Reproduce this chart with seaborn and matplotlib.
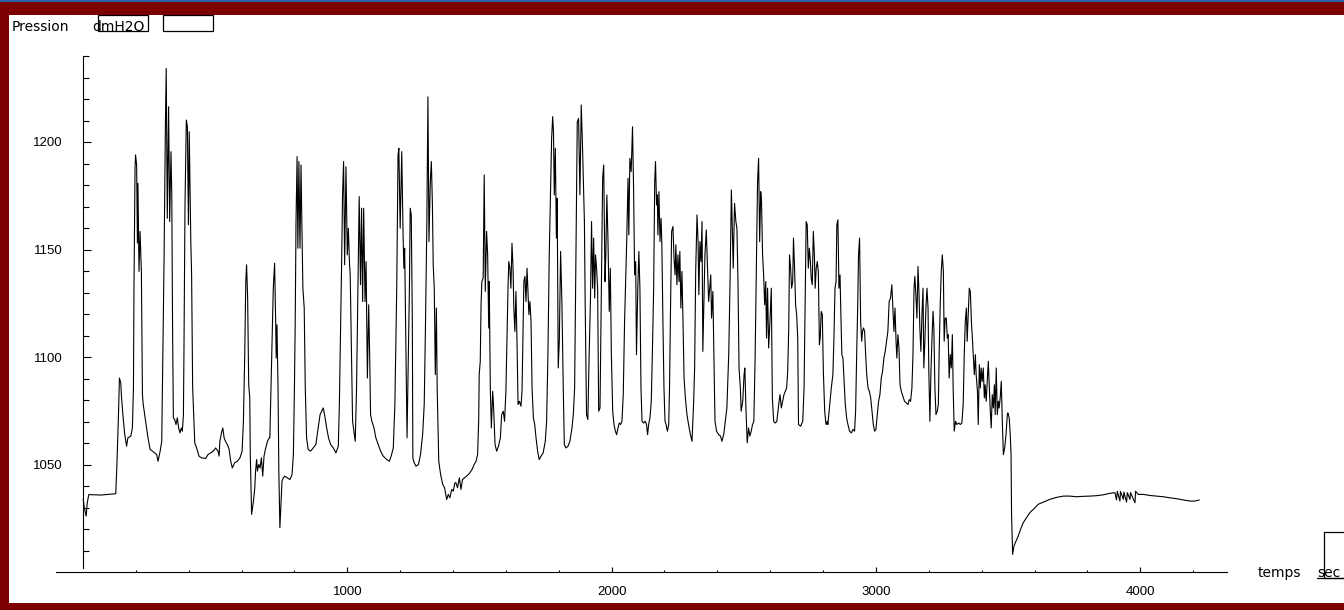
import matplotlib
matplotlib.use("Agg")
import matplotlib.pyplot as plt
import seaborn as sns
import pandas as pd
from matplotlib.patches import Rectangle
from matplotlib.lines import Line2D
from matplotlib.ticker import FixedLocator

# ---------------------------------------------------------------------------
# Pressure record (dmH2O) against time (s)
# ---------------------------------------------------------------------------
temps_s = [
    1, 5, 12, 16, 22, 67, 124, 128, 134, 138,
    143, 146, 152, 158, 165, 170, 181, 187, 191, 193,
    197, 199, 203, 206, 208, 212, 216, 221, 225, 228,
    237, 246, 254, 263, 271, 279, 284, 292, 298, 302,
    307, 312, 315, 319, 324, 328, 333, 336, 339, 342,
    347, 352, 357, 362, 367, 372, 376, 380, 382, 386,
    391, 395, 399, 402, 408, 411, 415, 420, 423, 430,
    439, 448, 464, 473, 483, 493, 502, 511, 515, 518,
    524, 529, 534, 539, 546, 553, 559, 565, 574, 584,
    594, 602, 607, 612, 616, 619, 623, 627, 631, 633,
    638, 645, 650, 653, 657, 660, 665, 670, 675, 680,
    685, 690, 698, 705,
    707, 714, 720, 725, 729, 731, 734, 738, 741, 745,
    749, 753, 758, 764, 773, 783, 791, 796, 800, 803,
    806, 810, 813, 817, 821, 825, 828, 832, 837, 841,
    846, 852, 861, 871, 881, 890, 897, 903, 909, 915,
    922, 929, 937, 947, 957, 966, 970, 975, 979, 982,
    986, 990, 995, 1000, 1004, 1008, 1011, 1016, 1020, 1025,
    1030, 1035, 1040, 1045, 1050, 1054, 1058, 1062, 1067, 1071,
    1076, 1081, 1085, 1088, 1093, 1101, 1108, 1117, 1126, 1136,
    1149, 1159, 1166, 1174, 1180, 1187, 1192, 1195, 1200, 1206,
    1211, 1214, 1217, 1222, 1226, 1231, 1235, 1238, 1242, 1246,
    1248, 1253, 1260, 1269, 1277, 1285, 1291, 1296, 1301, 1305,
    1309, 1314, 1318, 1322, 1325, 1329, 1333, 1337, 1340, 1346,
    1353, 1361, 1368, 1376, 1382, 1388, 1395, 1401, 1407,
    1411, 1417, 1424, 1430, 1436, 1443, 1451, 1461, 1472, 1480,
    1487, 1493, 1497, 1499, 1503, 1506, 1509, 1514, 1518, 1522,
    1527, 1531, 1535, 1537, 1541, 1545, 1550, 1553, 1559, 1565,
    1572, 1579, 1584, 1590, 1595, 1600, 1604, 1608, 1611, 1615,
    1619, 1623, 1627, 1630, 1634, 1638, 1642, 1646, 1651, 1657,
    1661, 1664, 1668, 1672, 1676, 1680, 1683, 1687, 1691, 1695,
    1699, 1704, 1709, 1714, 1720, 1726, 1733, 1741, 1749, 1754,
    1759, 1764, 1769, 1773, 1777, 1780, 1783, 1787, 1791, 1794,
    1798, 1802, 1807, 1812, 1817, 1821, 1827, 1835, 1842, 1850,
    1855, 1860, 1865, 1870, 1875, 1880, 1885, 1889, 1893, 1897,
    1900, 1905, 1910, 1915, 1920, 1924, 1928, 1932, 1936, 1939,
    1943, 1947, 1951, 1956, 1961, 1966, 1970, 1975, 1978, 1982,
    1986, 1991, 1995, 1999, 2004, 2009, 2014, 2019, 2024, 2029,
    2034, 2039, 2044, 2049, 2057, 2062, 2065, 2069, 2074, 2079,
    2083, 2087, 2091, 2094, 2099, 2103, 2107, 2111,
    2115, 2121, 2127, 2132, 2136, 2140, 2145, 2150, 2154, 2159,
    2163, 2166, 2170, 2173, 2175, 2179, 2183, 2187, 2190, 2194,
    2198, 2202, 2206, 2211, 2216, 2219, 2223, 2227, 2232, 2236,
    2240, 2243, 2247, 2251, 2255, 2258, 2262, 2266, 2270, 2274,
    2279, 2285, 2291, 2298, 2304, 2310, 2314, 2318, 2323, 2327,
    2330, 2334, 2338, 2342, 2345, 2349, 2353, 2358, 2363, 2367,
    2371, 2375, 2378, 2383, 2387, 2391, 2397, 2405, 2412, 2417,
    2424, 2430, 2436, 2443, 2448, 2453, 2456, 2460, 2465, 2470,
    2474, 2478, 2482, 2487, 2490, 2496, 2501, 2504, 2508, 2513,
    2518, 2523, 2528, 2533, 2538, 2543, 2548, 2552, 2556, 2560,
    2564, 2567, 2571, 2575, 2579, 2583, 2586, 2590, 2594, 2599,
    2604, 2608, 2613, 2619, 2625, 2632, 2637, 2642, 2647, 2652,
    2657, 2662, 2666, 2670, 2673, 2677, 2681, 2685, 2688, 2692,
    2696, 2700, 2704, 2707, 2715, 2723, 2728, 2733, 2736, 2740,
    2744, 2748, 2752, 2755, 2759, 2763, 2767, 2770, 2774, 2778,
    2782, 2786, 2789, 2793, 2797, 2801, 2806, 2811, 2816,
    2818, 2825, 2831, 2837, 2841, 2845, 2849, 2852, 2856, 2860,
    2864, 2867, 2871, 2875, 2879, 2884, 2889, 2894, 2900, 2907,
    2913, 2919, 2923, 2927, 2931, 2934, 2938, 2942, 2946, 2949,
    2953, 2957, 2961, 2965, 2970, 2975, 2980, 2985, 2990, 2995,
    3000, 3005, 3010, 3015, 3020, 3025, 3030, 3035, 3040, 3045,
    3050, 3055, 3060, 3064, 3068, 3072, 3076, 3079, 3083, 3087,
    3091, 3096, 3102, 3108, 3115, 3121, 3126, 3131, 3136, 3140,
    3144, 3147, 3151, 3155, 3159, 3163, 3166, 3170, 3174, 3178,
    3181, 3185, 3189, 3193, 3197, 3200, 3204, 3208, 3212, 3216,
    3219, 3223, 3227, 3232, 3236, 3239, 3243, 3247, 3251, 3255,
    3258, 3262, 3266, 3270, 3273, 3277, 3281, 3285, 3289, 3292,
    3296, 3301, 3306, 3313, 3319, 3325, 3330, 3334, 3338, 3342,
    3345, 3349, 3353, 3357, 3361, 3364, 3368, 3372, 3376, 3379,
    3384, 3387, 3391, 3395, 3398, 3402, 3406, 3410, 3413, 3417,
    3421, 3425, 3429, 3432, 3436, 3440, 3444, 3448, 3451, 3455,
    3459, 3463, 3466, 3470, 3474, 3478, 3482, 3487, 3492, 3497,
    3499, 3504, 3508, 3511, 3513,
    3517, 3522, 3530, 3538, 3547, 3557, 3570, 3582, 3595, 3614,
    3633, 3658, 3683, 3709, 3734, 3759, 3784, 3809, 3835, 3860,
    3885, 3904, 3910, 3913, 3923, 3925, 3936, 3938, 3948, 3951,
    3961, 3963, 3980, 3982, 3992, 4011, 4036, 4062, 4087, 4112,
    4137, 4163, 4188, 4207, 4223,
]

pression = [
    1034, 1030, 1026, 1032, 1036, 1035.8, 1036.4, 1048.4, 1071.7, 1090.2,
    1087.9, 1081, 1071.7, 1064, 1058.5, 1062.4, 1063.2, 1067, 1085.6, 1132,
    1187.8, 1194, 1189.3, 1153, 1180.8, 1139.8, 1158.4, 1139.8, 1082.5, 1077.9,
    1070.1, 1062.4, 1057, 1056.2, 1055.4, 1054.6, 1051.5, 1056.2, 1060.8, 1101.1,
    1147.5, 1209.4, 1234.2, 1164.5, 1216.4, 1163, 1195.5, 1175.4, 1113.5, 1071.7,
    1070.9, 1068.6, 1071.7, 1067, 1064.7, 1067, 1065.5, 1073.2, 1101.1, 1170.7,
    1210.2, 1207.1, 1161.5, 1204.8, 1153.7, 1138.2, 1085.6, 1070.1, 1060.1, 1057.7,
    1053.9, 1053.1, 1052.8, 1054.6, 1055.4, 1056.2, 1057.7, 1056.2, 1053.9, 1060.8,
    1064.7, 1067, 1062.4, 1060.8, 1059.3, 1057, 1051.5, 1048.4, 1050.8, 1051.5,
    1053.1, 1056.2, 1070.1, 1101.1, 1135.1, 1142.9, 1127.4, 1087.1, 1081, 1054.6,
    1026.8, 1033, 1039.2, 1046.9, 1052.3, 1046.9, 1050, 1048.4, 1053.1, 1044.6,
    1053.9, 1057, 1060.8, 1062.4,
    1062.4, 1101.1, 1132, 1143.6, 1116.6, 1099.5, 1115, 1085.6, 1046.9, 1020.6,
    1031.4, 1042.3, 1043.8, 1044.6, 1043.8, 1043, 1045.4, 1054.6, 1085.6, 1116.6,
    1163, 1193.2, 1150.6, 1190.9, 1150.6, 1189.3, 1163, 1132, 1122.8, 1085.6,
    1062.4, 1057, 1056.2, 1057.7, 1059.3, 1067, 1073.2, 1074.8, 1076.3, 1072.4,
    1067, 1062.4, 1059.3, 1057.7, 1055.4, 1058.5, 1077.9, 1116.6, 1147.5, 1175.4,
    1190.9, 1142.9, 1188.5, 1147.5, 1159.9, 1144.4, 1138.2, 1101.1, 1070.1, 1065.5,
    1060.8, 1085.6, 1132, 1174.6, 1133.6, 1169.2, 1125.8, 1169.2, 1125.8, 1144.4,
    1090.2, 1124.3, 1098, 1073.2, 1070.1, 1067, 1062.4, 1059.3, 1056.2, 1053.9,
    1052.3, 1051.5, 1053.9, 1057.7, 1077.9, 1132, 1194, 1197.1, 1159.9, 1195.5,
    1156.8, 1141.3, 1150.6, 1101.1, 1062.4, 1101.1, 1132, 1169.2, 1166.1, 1116.6,
    1053.1, 1050.8, 1049.2, 1050, 1054.6, 1063.9, 1077.9, 1116.6, 1163, 1221,
    1153.7, 1181.6, 1190.9, 1170.7, 1142.9, 1132, 1091.8, 1122.8, 1085.6, 1051.5,
    1045.4, 1040.7, 1039.2, 1033.7, 1036.1, 1034.5, 1038.4, 1037.6, 1041.5,
    1041.5, 1039.2, 1043.8, 1038.4, 1043, 1043.8, 1044.6, 1045.7, 1047.7, 1050,
    1051.5, 1054.6, 1070.1, 1091.8, 1098, 1124.3, 1135.1, 1136.7, 1184.7, 1130.5,
    1158.4, 1147.5, 1113.5, 1135.1, 1085.6, 1067, 1084, 1077.9, 1059.3, 1056.2,
    1058.5, 1062.4, 1073.2, 1074.8, 1070.1, 1084, 1108.8, 1132, 1144.4, 1141.3,
    1132, 1152.9, 1141.3, 1122.8, 1111.9, 1130.5, 1107.3, 1077.9, 1079.4, 1077.1,
    1084, 1105.7, 1135.1, 1137.5, 1125.8, 1141.3, 1132, 1119.7, 1125.8, 1116.6,
    1085.6, 1071.7, 1068.6, 1062.4, 1056.2, 1052.3, 1053.9, 1055.4, 1060.8, 1070.1,
    1101.1, 1147.5, 1178.5, 1201.7, 1211.8, 1204.8, 1175.4, 1197.1, 1155.3, 1173.8,
    1094.9, 1107.3, 1149.1, 1124.3, 1085.6, 1059.3, 1057.7, 1058.5, 1060.8, 1067,
    1073.2, 1085.6, 1147.5, 1209.4, 1211, 1175.4, 1217.2, 1201.7, 1181.6, 1163,
    1124.3, 1073.2, 1070.9, 1101.1, 1127.4, 1163, 1132, 1155.3, 1127.4, 1147.5,
    1141.3, 1132, 1074.8, 1076.3, 1132, 1183.1, 1189.3, 1135.1, 1147.5, 1175.4,
    1155.3, 1121.2, 1141.3, 1101.1, 1074.8, 1068.6, 1065.5, 1063.9, 1067, 1069.3,
    1068.6, 1070.1, 1082.5, 1116.6, 1153.7, 1183.1, 1156.8, 1192.4, 1186.2, 1207.1,
    1178.5, 1138.2, 1144.4, 1101.1, 1132, 1149.1, 1132, 1085.6,
    1070.1, 1069.3, 1070.1, 1068.6, 1063.9, 1068.6, 1071.7, 1079.4, 1101.1, 1132,
    1181.6, 1190.9, 1170.7, 1175.4, 1156.8, 1176.9, 1153.7, 1164.5, 1152.2, 1116.6,
    1085.6, 1070.1, 1068.6, 1065.5, 1068.6, 1085.6, 1124.3, 1158.4, 1160.7, 1146,
    1138.2, 1152.2, 1133.6, 1147.5, 1135.1, 1149.1, 1122.8, 1139.8, 1116.6, 1090.2,
    1081, 1073.2, 1068.6, 1063.9, 1060.8, 1077.9, 1094.9, 1139.8, 1166.1, 1153.7,
    1129, 1153.7, 1144.4, 1163, 1102.6, 1125.8, 1147.5, 1159.1, 1141.3, 1125.8,
    1132, 1138.2, 1118.1, 1130.5, 1101.1, 1070.1, 1065.5, 1063.9, 1063.2, 1060.8,
    1063.9, 1070.1, 1076.3, 1101.1, 1135.1, 1177.7, 1163, 1141.3, 1171.5, 1163,
    1159.9, 1135.1, 1094.9, 1085.6, 1074.8, 1079.4, 1091.8, 1094.9, 1076.3, 1060.1,
    1067, 1063.2, 1065.5, 1068.6, 1070.1, 1101.1, 1147.5, 1181.6, 1192.4, 1153.7,
    1176.9, 1172.3, 1147.5, 1138.2, 1124.3, 1135.1, 1108.8, 1132, 1104.2, 1116.6,
    1132, 1081, 1070.1, 1069.3, 1070.1, 1077.9, 1082.5, 1076.3, 1079.4, 1082.5,
    1084, 1085.6, 1093.3, 1113.5, 1147.5, 1141.3, 1132, 1135.1, 1155.3, 1141.3,
    1124.3, 1119.7, 1108.8, 1068.6, 1067.8, 1070.1, 1085.6, 1132, 1163, 1161.5,
    1141.3, 1150.6, 1144.4, 1136.7, 1133.6, 1158.4, 1147.5, 1132, 1141.3, 1144.4,
    1139.8, 1105.7, 1108.8, 1121.2, 1119.7, 1093.3, 1074.8, 1068.6, 1070.1,
    1068.6, 1077.9, 1085.6, 1091.8, 1108.8, 1132, 1135.1, 1161.5, 1163.8, 1132,
    1138.2, 1121.2, 1101.1, 1099.5, 1090.2, 1077.9, 1071.7, 1068.6, 1065.5, 1064.7,
    1066.3, 1065.5, 1074.8, 1101.1, 1124.3, 1147.5, 1155.3, 1116.6, 1107.3, 1111.9,
    1113.5, 1111.9, 1101.1, 1091.8, 1085.6, 1084, 1081, 1074.8, 1068.6, 1065.5,
    1066.3, 1073.2, 1079.4, 1082.5, 1090.2, 1093.3, 1099.5, 1102.6, 1107.3, 1111.9,
    1125.9, 1127.4, 1133.6, 1122.8, 1111.9, 1122.8, 1107.3, 1099.5, 1110.4, 1104.2,
    1087.1, 1084, 1081.7, 1079.4, 1078.6, 1077.9, 1080.2, 1079.4, 1085.6, 1101.1,
    1132, 1137.5, 1129, 1118.1, 1142.1, 1129, 1113.5, 1102.6, 1119.7, 1132,
    1094.9, 1107.3, 1122.8, 1132, 1122.8, 1093.3, 1070.1, 1093.3, 1108.8, 1121.2,
    1113.5, 1085.6, 1073.2, 1074.8, 1077.9, 1101.1, 1124.3, 1139.8, 1147.5, 1139.8,
    1107.3, 1118.1, 1118.1, 1108.8, 1110.4, 1090.2, 1101.1, 1094.9, 1110.4, 1085.6,
    1065.5, 1070.1, 1068.6, 1069.3, 1068.6, 1069.3, 1077.9, 1101.1, 1116.6, 1122.8,
    1107.3, 1119.7, 1132, 1130.5, 1116.6, 1110.4, 1101.1, 1091.8, 1101.1, 1091.8,
    1084, 1068.6, 1096.4, 1085.6, 1094.9, 1088.7, 1094.9, 1081, 1087.1, 1079.4,
    1088.7, 1098, 1085.6, 1076.3, 1067, 1082.5, 1076.3, 1087.1, 1073.2, 1094.9,
    1073.2, 1079.4, 1076.3, 1081, 1088.7, 1070.1, 1054.6, 1057.7, 1063.9, 1073.2,
    1074, 1071.7, 1063.9, 1054.6, 1026.8,
    1008.2, 1012.1, 1014.4, 1016.7, 1019.8, 1022.9, 1025.3, 1027.6, 1029.1, 1031.5,
    1032.5, 1033.8, 1034.7, 1035.3, 1035.3, 1035, 1035.2, 1035.3, 1035.5, 1035.9,
    1036.6, 1036.9, 1033.5, 1037.5, 1033, 1037.5, 1033.8, 1037.2, 1032.5, 1036.9,
    1033.8, 1036.9, 1032.2, 1037.6, 1036.1, 1036.1, 1035.6, 1035.3, 1035, 1034.5,
    1034.1, 1033.5, 1033, 1033, 1033.5,
]

y_major = [1050, 1100, 1150, 1200]
y_minor = list(range(1010, 1241, 10))
x_major = [1000, 2000, 3000, 4000]
x_minor = list(range(200, 4201, 200))

assert len(temps_s) == len(pression)
df = pd.DataFrame({"temps": temps_s, "pression": pression})

# ---------------------------------------------------------------------------
# Figure layout
# ---------------------------------------------------------------------------
sns.set_theme(style="white")
plt.rcParams["font.family"] = ["Liberation Sans", "DejaVu Sans"]

W, H = 1344, 610
MAROON = "#7d0000"
fig = plt.figure(figsize=(W / 100, H / 100), dpi=100)
fig.patch.set_facecolor(MAROON)


def fx(px):
    return px / W


def fy(py):
    return 1 - py / H


# white panel inside the maroon frame, thin blue strip at the very top
fig.add_artist(Rectangle((fx(9), fy(603)), fx(W - 9), (603 - 15) / H,
                         transform=fig.transFigure, facecolor="white",
                         edgecolor="none", zorder=-2))
fig.add_artist(Rectangle((0, fy(2)), 1, 2 / H, transform=fig.transFigure,
                         facecolor="#2a64a8", edgecolor="none", zorder=-2))

ax = fig.add_axes([fx(56), fy(572), (1227 - 56) / W, (572 - 56) / H])
ax.set_facecolor("none")

sns.lineplot(data=df, x="temps", y="pression", ax=ax, color="black",
             linewidth=0.8, estimator=None, sort=False)

ax.set_xlim(-102, 4328)
ax.set_ylim(1000, 1240)
ax.set_xlabel("")
ax.set_ylabel("")

for side in ("top", "right"):
    ax.spines[side].set_visible(False)
ax.spines["left"].set_position(("data", 0))
ax.spines["left"].set_bounds(1002, 1240)
for side in ("left", "bottom"):
    ax.spines[side].set_color("black")
    ax.spines[side].set_linewidth(0.8)

ax.yaxis.set_major_locator(FixedLocator(y_major))
ax.yaxis.set_minor_locator(FixedLocator(y_minor))
ax.xaxis.set_major_locator(FixedLocator(x_major))
ax.xaxis.set_minor_locator(FixedLocator(x_minor))
ax.set_yticklabels([str(v) for v in y_major])
ax.set_xticklabels([str(v) for v in x_major])

ax.tick_params(axis="both", which="both", left=True, bottom=True,
               top=False, right=False)
ax.tick_params(axis="y", which="major", direction="in", length=6, width=0.8,
               color="black", pad=14.5, labelsize=9.5, labelcolor="black")
ax.tick_params(axis="y", which="minor", direction="in", length=4, width=0.8,
               color="black")
ax.tick_params(axis="x", which="major", direction="in", length=3.5, width=0.8,
               color="black", pad=10, labelsize=9.5, labelcolor="black")
ax.tick_params(axis="x", which="minor", direction="in", length=1.8, width=0.8,
               color="black")
ax.grid(False)

# ---------------------------------------------------------------------------
# Header and axis captions
# ---------------------------------------------------------------------------
lab = dict(fontsize=10, color="black", family=["DejaVu Sans"], va="baseline")
fig.text(fx(12), fy(31), "Pression", **lab)
fig.text(fx(92), fy(31), "dmH2O", **lab)
for x0, x1 in ((98, 148), (163, 213)):
    fig.add_artist(Rectangle((fx(x0), fy(31)), (x1 - x0) / W, 16 / H,
                             transform=fig.transFigure, facecolor="none",
                             edgecolor="black", linewidth=0.9))

fig.text(fx(1258), fy(577), "temps", **lab)
fig.text(fx(1317), fy(577), "sec", **lab)
fig.add_artist(Rectangle((fx(1324), fy(578)), 40 / W, 46 / H,
                         transform=fig.transFigure, facecolor="none",
                         edgecolor="black", linewidth=0.9))
fig.add_artist(Line2D([fx(1317), fx(1344)], [fy(578), fy(578)],
                      transform=fig.transFigure, color="black", linewidth=0.9))

fig.savefig("out.png", dpi=100, facecolor=fig.get_facecolor())
